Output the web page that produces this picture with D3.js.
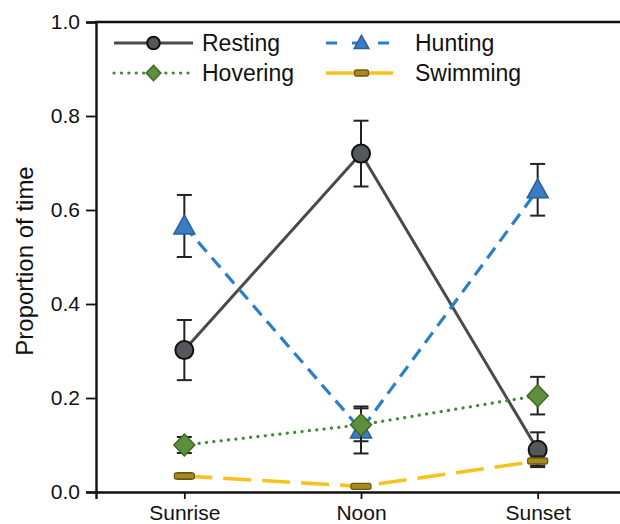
<!DOCTYPE html>
<html>
<head>
<meta charset="utf-8">
<script src="https://cdn.jsdelivr.net/npm/d3@7"></script>
<style>
  body { margin: 0; background: #fff; }
  svg { font-family: "Liberation Sans", Arial, sans-serif; }
</style>
</head>
<body>
<svg id="chart" width="620" height="524"></svg>
<script>
// data
const periods = ['Sunrise', 'Noon', 'Sunset'];
const yTicks = [0, 0.2, 0.4, 0.6, 0.8, 1.0];

const resting = [0.302, 0.72, 0.09];
const restingErr = [0.064, 0.07, 0.037];
const hunting = [0.566, 0.132, 0.643];
const huntingErr = [0.066, 0.05, 0.055];
const hovering = [0.10, 0.143, 0.205];
const hoveringErr = [0.017, 0.035, 0.04];
const swimming = [0.034, 0.012, 0.066];
const swimmingErr = [0.006, 0.003, 0.01];

const svg = d3.select('#chart');
const margin = { top: 22, left: 96, bottom: 492 };

const x = d3.scaleLinear().domain([-0.5, 2.5]).range([96, 626]);
const y = d3.scaleLinear().domain([0, 1]).range([492, 22]);

// axes
const xAxis = svg.append('g')
    .attr('transform', `translate(0, ${margin.bottom})`)
    .call(d3.axisBottom(x).tickValues([0, 1, 2]).tickFormat(i => periods[i]).tickSizeOuter(0).tickSize(7).tickPadding(6));
const yAxis = svg.append('g')
    .attr('transform', `translate(${margin.left}, 0)`)
    .call(d3.axisLeft(y).tickValues(yTicks).tickFormat(d3.format('.1f')).tickSizeOuter(0).tickSize(10).tickPadding(6));
[xAxis, yAxis].forEach(a => {
    a.select('.domain').attr('stroke', '#111').attr('stroke-width', 2.4);
    a.selectAll('.tick line').attr('stroke', '#111').attr('stroke-width', 1.8);
    a.selectAll('text').attr('fill', '#111').style('font-size', '21px').style('font-family', '"Liberation Sans", Arial, sans-serif');
});
// top spine
svg.append('line')
    .attr('x1', 95).attr('x2', 626).attr('y1', 22).attr('y2', 22)
    .attr('stroke', '#111').attr('stroke-width', 2.4);

svg.append('text')
    .attr('transform', `translate(33, ${y(0.5) + 4}) rotate(-90)`)
    .attr('text-anchor', 'middle')
    .attr('fill', '#111')
    .style('font-size', '24px')
    .text('Proportion of time');

// marker shapes
function drawMarker(g, kind, cx, cy, k) {
    k = k || 1;
    if (kind === 'circle') {
        g.append('circle').attr('cx', cx).attr('cy', cy).attr('r', 9 * k)
            .attr('fill', '#54575b').attr('stroke', '#111').attr('stroke-width', 2);
    } else if (kind === 'triangle') {
        g.append('path')
            .attr('d', `M${cx},${cy - 11 * k} L${cx + 10.5 * k},${cy + 8 * k} L${cx - 10.5 * k},${cy + 8 * k} Z`)
            .attr('fill', '#3a7dc0').attr('stroke', '#2a5f99').attr('stroke-width', 1.5);
    } else if (kind === 'diamond') {
        g.append('path')
            .attr('d', `M${cx},${cy - 11 * k} L${cx + 10.5 * k},${cy} L${cx},${cy + 11 * k} L${cx - 10.5 * k},${cy} Z`)
            .attr('fill', '#5f8f3c').attr('stroke', '#3f6a25').attr('stroke-width', 1.5);
    } else {
        g.append('rect').attr('x', cx - 10 * k).attr('y', cy - 3).attr('width', 20 * k).attr('height', 6).attr('rx', 2)
            .attr('fill', '#a88a22').attr('stroke', '#6e5a12').attr('stroke-width', 1.3);
    }
}

const series = [
    { name: 'Resting', vals: resting, err: restingErr, color: '#4a4a4a', dash: null, legendDash: null, cap: 'butt', marker: 'circle', width: 3 },
    { name: 'Hunting', vals: hunting, err: huntingErr, color: '#2a7fc8', dash: '13,8', legendDash: '11,15', cap: 'butt', marker: 'triangle', width: 3.2 },
    { name: 'Hovering', vals: hovering, err: hoveringErr, color: '#3e8c2e', dash: '0.1,7.3', legendDash: '0.1,7.3', cap: 'round', marker: 'diamond', width: 3.2 },
    { name: 'Swimming', vals: swimming, err: swimmingErr, color: '#f7c21c', dash: '28,11', legendDash: null, cap: 'butt', marker: 'bar', width: 3.6 }
];

const line = d3.line().x((d, i) => x(i)).y(d => y(d));

series.forEach(s => {
    const g = svg.append('g');
    g.append('path')
        .datum(s.vals)
        .attr('d', line)
        .attr('fill', 'none')
        .attr('stroke', s.color)
        .attr('stroke-width', s.width)
        .attr('stroke-linecap', s.cap)
        .attr('stroke-dasharray', s.dash);
    s.vals.forEach((v, i) => {
        const cx = x(i);
        const lo = y(v - s.err[i]), hi = y(v + s.err[i]);
        g.append('line').attr('x1', cx).attr('x2', cx).attr('y1', lo).attr('y2', hi)
            .attr('stroke', '#222').attr('stroke-width', 2);
        [lo, hi].forEach(yy => g.append('line')
            .attr('x1', cx - 7.5).attr('x2', cx + 7.5).attr('y1', yy).attr('y2', yy)
            .attr('stroke', '#222').attr('stroke-width', 2));
    });
    s.vals.forEach((v, i) => drawMarker(g, s.marker, x(i), y(v)));
});

// legend
const legendPos = [[114, 43], [326, 43], [114, 73], [326, 73]];
series.forEach((s, j) => {
    const [lx, ly] = legendPos[j];
    const len = j % 2 === 0 ? 79 : 67;
    const lg = svg.append('g');
    lg.append('line').attr('x1', lx).attr('x2', lx + len).attr('y1', ly).attr('y2', ly)
        .attr('stroke', s.color).attr('stroke-width', s.width)
        .attr('stroke-linecap', s.cap).attr('stroke-dasharray', s.legendDash);
    drawMarker(lg, s.marker, lx + len / 2 + (j % 2 === 0 ? 0 : 2), ly, 0.7);
    lg.append('text').attr('x', j % 2 === 0 ? 202 : 415).attr('y', ly + 8)
        .attr('fill', '#111').style('font-size', '23px').text(s.name);
});
</script>
</body>
</html>
